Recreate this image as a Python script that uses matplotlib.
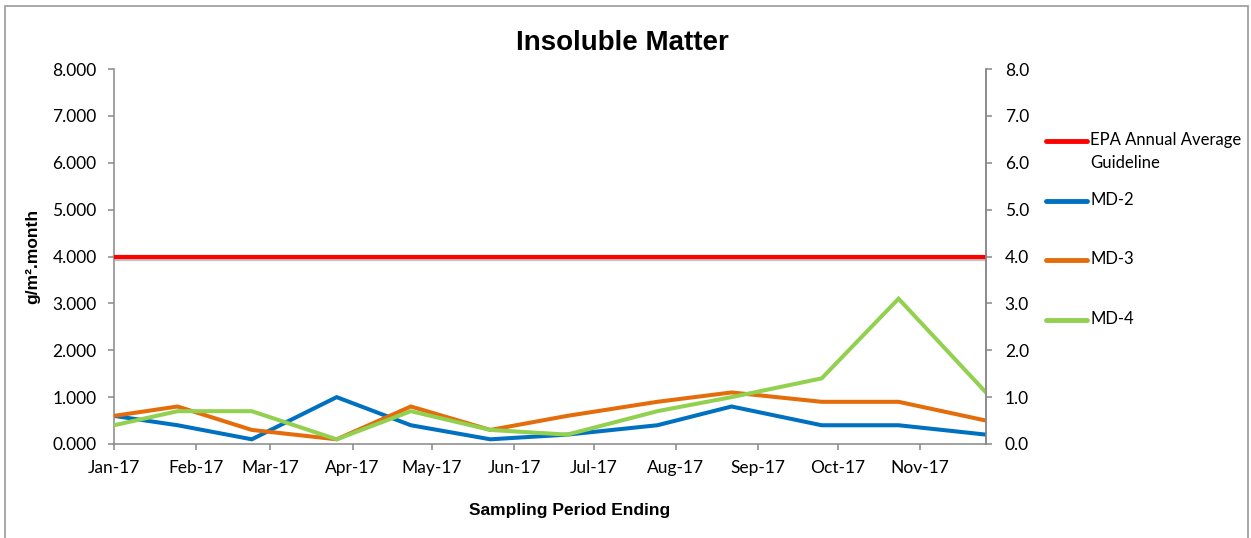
import numpy as np
import matplotlib
matplotlib.use("Agg")
import matplotlib.pyplot as plt
import matplotlib.dates as mdates
import matplotlib.patheffects as pe
from matplotlib.lines import Line2D
from matplotlib.patches import Rectangle
import pandas as pd

# ====================== data ======================
dates = pd.to_datetime([
    "2017-01-01", "2017-01-25", "2017-02-22", "2017-03-26", "2017-04-23", "2017-05-23",
    "2017-06-21", "2017-07-25", "2017-08-22", "2017-09-25", "2017-10-24", "2017-11-26",
])
epa_guideline = [4.0] * len(dates)
md2 = [0.6, 0.4, 0.1, 1.0, 0.4, 0.1, 0.2, 0.4, 0.8, 0.4, 0.4, 0.2]
md3 = [0.6, 0.8, 0.3, 0.1, 0.8, 0.3, 0.6, 0.9, 1.1, 0.9, 0.9, 0.5]
md4 = [0.4, 0.7, 0.7, 0.1, 0.7, 0.3, 0.2, 0.7, 1.0, 1.4, 3.1, 1.1]

series_names = ["EPA Annual Average\nGuideline", "MD-2", "MD-3", "MD-4"]
series_vals = [epa_guideline, md2, md3, md4]
series_colors = ["#FF0000", "#0070C0", "#E46C0A", "#92D050"]

W, H = 1251, 538
TXT = ["Lato", "DejaVu Sans"]
BOLD = ["Liberation Sans", "DejaVu Sans"]
AXC = "#888888"

fig = plt.figure(figsize=(W / 100, H / 100), dpi=100)
ax = fig.add_axes([114 / W, 1 - 444 / H, (986 - 114) / W, (444 - 69) / H])

handles = []
for name, vals, col in zip(series_names, series_vals, series_colors):
    if name.startswith("EPA"):
        ln, = ax.plot(dates, vals, color=col, lw=3.0, solid_capstyle="butt",
                      path_effects=[pe.SimpleLineShadow(offset=(0.8, -1.8), shadow_color="#999999", alpha=0.6),
                                    pe.Normal()], zorder=3)
    else:
        ln, = ax.plot(dates, vals, color=col, lw=2.9, solid_joinstyle="miter", zorder=3)
    handles.append(ln)

ax.set_xlim(dates[0], dates[-1])
ax.set_ylim(0, 8)
ax.set_yticks(np.arange(0, 9, 1))
ax.yaxis.set_major_formatter(matplotlib.ticker.FormatStrFormatter("%.3f"))
ax.xaxis.set_major_locator(mdates.MonthLocator())
ax.xaxis.set_major_formatter(mdates.DateFormatter("%b-%y"))

ax2 = ax.twinx()
ax2.set_ylim(0, 8)
ax2.set_yticks(np.arange(0, 9, 1))
ax2.yaxis.set_major_formatter(matplotlib.ticker.FormatStrFormatter("%.1f"))

for a in (ax, ax2):
    a.spines["top"].set_visible(False)
    for s in ("left", "right", "bottom"):
        a.spines[s].set_color(AXC)
        a.spines[s].set_linewidth(1.1)
    a.tick_params(colors=AXC, length=4.5, width=1.1, labelcolor="black", labelsize=12.5)
    for lab in a.get_xticklabels() + a.get_yticklabels():
        lab.set_family(TXT)
ax.tick_params(axis="y", pad=8)
ax2.tick_params(axis="y", pad=9)
ax.tick_params(axis="x", pad=7)
ax2.spines["left"].set_visible(False)
ax2.spines["bottom"].set_visible(False)

fig.text(622 / W, 1 - 43 / H, "Insoluble Matter", ha="center", va="center",
         fontsize=20, fontweight="bold", family=BOLD)
fig.text(570 / W, 1 - 510 / H, "Sampling Period Ending", ha="center", va="center",
         fontsize=12.5, fontweight="bold", family=BOLD)
fig.text(33 / W, 1 - 256 / H, "g/m².month", ha="center", va="center", rotation=90,
         fontsize=12.5, fontweight="bold", family=BOLD)

# legend drawn by hand so the two-line label sits like the original
leg_y = [141, 201, 260, 320]
for ln, name, y in zip(handles, series_names, leg_y):
    fig.add_artist(Line2D([1046 / W, 1087 / W], [1 - y / H] * 2, color=ln.get_color(),
                          lw=3.5, solid_capstyle="round", transform=fig.transFigure))
    fig.text(1090 / W, 1 - (y - 9) / H, name, ha="left", va="top", fontsize=12,
             family=TXT, linespacing=1.55)

# outer chart frame
fig.add_artist(Rectangle((5 / W, -0.05), (1248 - 5) / W, 1 - 6 / H + 0.05, fill=False,
                         edgecolor="#999999", lw=1.2, transform=fig.transFigure))

fig.savefig("out.png", dpi=100)
